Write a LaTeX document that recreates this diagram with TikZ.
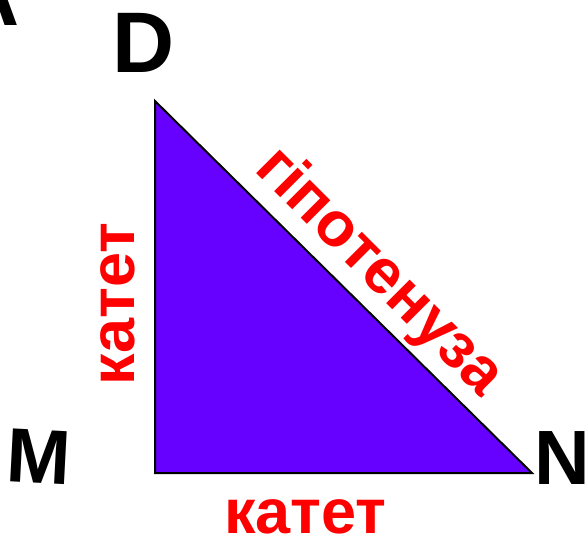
\documentclass[tikz,border=0pt]{standalone}
\usepackage{fontspec}
\setmainfont{Liberation Sans}
\usetikzlibrary{positioning}
\definecolor{trviolet}{HTML}{6600FF}
\definecolor{trred}{HTML}{FF0000}

\begin{document}
\begin{tikzpicture}[x=1pt, y=-1pt,
    vlabel/.style={inner sep=0pt, anchor=base, font=\fontsize{77}{77}\selectfont\bfseries},
    sidelabel/.style={inner sep=0pt, anchor=base, text=trred, font=\fontsize{63}{63}\selectfont\bfseries}]
    \useasboundingbox (0,0) rectangle (585,542);
    \coordinate (D) at (155,101);
    \coordinate (M) at (155,473);
    \coordinate (N) at (532,473);
    \draw[fill=trviolet, line width=2pt, line join=miter] (D) -- (M) -- (N) -- cycle;
    \node[vlabel, font=\fontsize{86}{86}\selectfont\bfseries] (labA) at (-11,25) {A};
    \node[vlabel, font=\fontsize{86}{86}\selectfont\bfseries] (labD) at (144,72) {D};
    \node[vlabel, rotate=-3] (labM) at (37.5,483) {M};
    \node[vlabel] (labN) at (562,484) {N};
    \node[sidelabel] (legMN) at (305.5,533) {катет};
    \node[sidelabel, rotate=90] (legDM) at (134,304) {катет};
    \node[sidelabel, rotate=-45] (hypDN) at (367,284) {гіпотенуза};
\end{tikzpicture}
\end{document}
